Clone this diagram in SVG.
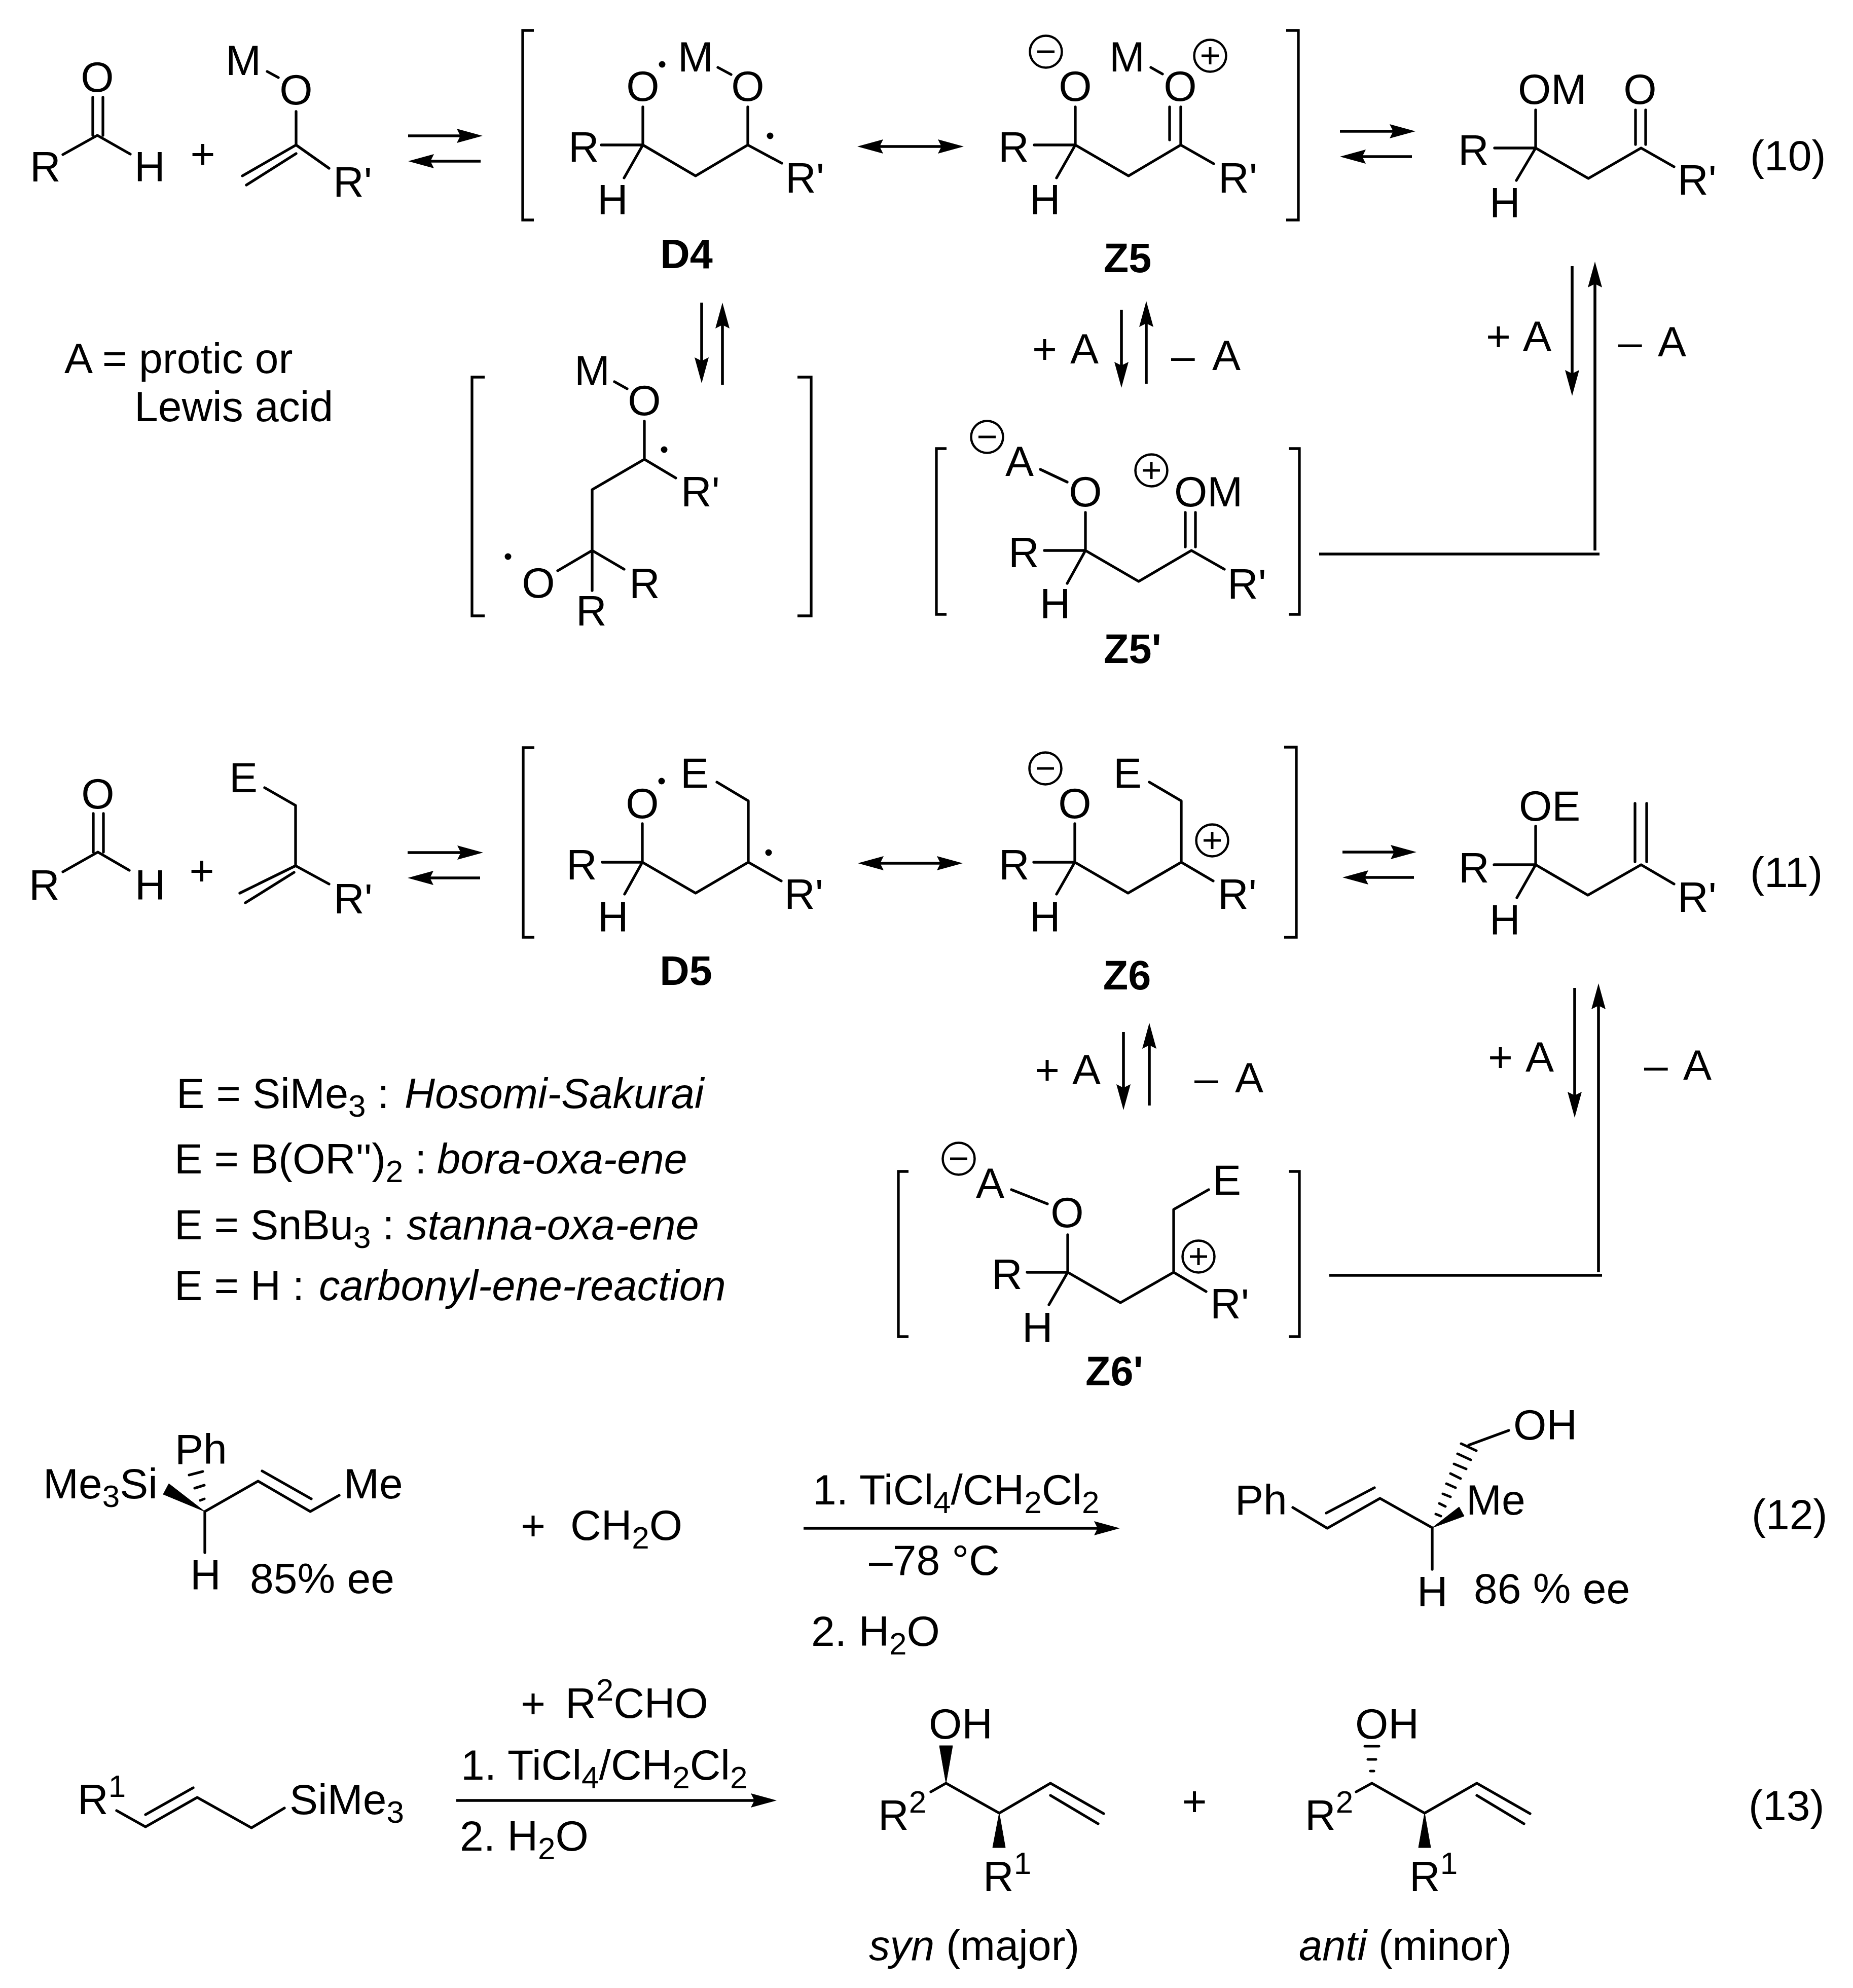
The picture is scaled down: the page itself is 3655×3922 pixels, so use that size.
<svg xmlns="http://www.w3.org/2000/svg" width="3655" height="3922" viewBox="0 0 3655 3922">
<style>
text{font-family:"Liberation Sans",Arial,sans-serif;font-size:84px;fill:#000}
.m{text-anchor:middle}
.l{font-weight:bold;font-size:81px;text-anchor:middle}
.i{font-style:italic}
.s{font-size:62px}
.e{font-size:83px}
path,line{fill:none;stroke:#000;stroke-width:5.3;stroke-linecap:round;stroke-linejoin:round}
.br{stroke-linecap:butt;stroke-linejoin:miter}
.w{fill:#000;stroke:#000;stroke-width:1}
.h{stroke-width:5}
.c{fill:none;stroke:#000;stroke-width:4.5}
.cs{stroke-width:5;stroke-linecap:butt}
.d{fill:#000}
.a{stroke-width:5.6;stroke-linecap:butt;marker-end:url(#ah)}
.aa{stroke-width:5.6;stroke-linecap:butt;marker-end:url(#ah);marker-start:url(#ah)}
.n{stroke-width:5.6;stroke-linecap:butt}
</style>
<defs>
<marker id="ah" markerUnits="userSpaceOnUse" markerWidth="54" markerHeight="32" refX="31" refY="15" orient="auto-start-reverse"><path d="M0,1 L51,15 L0,29 L7,15 Z" style="fill:#000;stroke:none"/></marker>
<g id="minus"><circle class="c" r="31.5"/><line class="cs" x1="-17" x2="17"/></g>
<g id="plus"><circle class="c" r="31.5"/><line class="cs" x1="-17" x2="17"/><line class="cs" y1="-17" y2="17"/></g>
</defs>
<rect width="3655" height="3922" fill="#fff"/>

<g id="connectors">
<line class="a" x1="805" y1="268" x2="932" y2="268"/>
<line class="a" x1="948" y1="318" x2="825" y2="318"/>
<line class="aa" x1="1711" y1="289" x2="1881" y2="289"/>
<line class="a" x1="1384" y1="597" x2="1384" y2="736"/>
<line class="a" x1="1425" y1="759" x2="1425" y2="617"/>
<line class="a" x1="2212" y1="611" x2="2212" y2="745"/>
<line class="a" x1="2261" y1="757" x2="2261" y2="614"/>
<line class="a" x1="2643" y1="259" x2="2772" y2="259"/>
<line class="a" x1="2785" y1="309" x2="2663" y2="309"/>
<line class="a" x1="3101" y1="525" x2="3101" y2="761"/>
<line class="a" x1="3146" y1="1086" x2="3146" y2="536"/>
<line class="n" x1="2602" y1="1093" x2="3155" y2="1093"/>
<line class="a" x1="804" y1="1682" x2="933" y2="1682"/>
<line class="a" x1="947" y1="1732" x2="824" y2="1732"/>
<line class="aa" x1="1712" y1="1703" x2="1879" y2="1703"/>
<line class="a" x1="2216" y1="2036" x2="2216" y2="2170"/>
<line class="a" x1="2267" y1="2181" x2="2267" y2="2038"/>
<line class="a" x1="2648" y1="1681" x2="2774" y2="1681"/>
<line class="a" x1="2789" y1="1731" x2="2668" y2="1731"/>
<line class="a" x1="3106" y1="1949" x2="3106" y2="2185"/>
<line class="a" x1="3153" y1="2510" x2="3153" y2="1960"/>
<line class="n" x1="2622" y1="2516" x2="3160" y2="2516"/>
<line class="a" x1="1585" y1="3015" x2="2189" y2="3015"/>
<line class="a" x1="900" y1="3552" x2="1512" y2="3552"/>
</g>

<g id="aldehyde-10">
<path d="M124,305 L192,267 L257,304 M183,192 V267 M203,192 V267"/>
<text class="m" x="192" y="181">O</text><text x="59" y="358">R</text><text x="265" y="358">H</text>
</g>
<text id="plus-10" class="m" x="400" y="332">+</text>
<g id="enol-ether">
<path d="M527,141 L549,153 M584,220 V286 L478,347 M584,303 L486,365 M584,286 L649,332"/>
<text x="445" y="148">M</text><text class="m" x="584" y="206">O</text><text x="657" y="388">R'</text>
</g>
<g id="D4">
<path class="br" d="M1053,60 H1031 V434 H1053"/>
<path d="M1186,286 H1268 V211 M1268,286 L1231,351 M1268,286 L1372,347 L1475,286 V211 M1475,286 L1542,322 M1416,133 L1442,147"/>
<circle class="d" cx="1306" cy="127" r="6.5"/><circle class="d" cx="1519" cy="268" r="6.5"/>
<text class="m" x="1268" y="199">O</text><text x="1337" y="141">M</text><text class="m" x="1475" y="199">O</text>
<text x="1121" y="319">R</text><text x="1178" y="423">H</text><text x="1549" y="380">R'</text>
<text class="l" x="1354" y="529">D4</text>
</g>
<g id="Z5">
<path class="br" d="M2537,60 H2561 V434 H2537"/>
<path d="M2040,286 H2121 V211 M2121,286 L2084,351 M2121,286 L2226,347 L2329,286 V211 M2307,211 V276 M2329,286 L2394,323 M2270,133 L2293,146"/>
<use href="#minus" x="2063" y="102"/><use href="#plus" x="2387" y="110"/>
<text class="m" x="2121" y="199">O</text><text x="2188" y="141">M</text><text class="m" x="2328" y="199">O</text>
<text x="1969" y="319">R</text><text x="2031" y="423">H</text><text x="2403" y="380">R'</text>
<text class="l" x="2224" y="537">Z5</text>
</g>
<g id="product-10">
<path d="M2948,292 H3029 V217 M3029,292 L2991,356 M3029,292 L3133,352 L3237,292 L3302,329 M3226,217 V285 M3246,217 V285"/>
<text x="2994" y="205">OM</text><text class="m" x="3235" y="205">O</text>
<text x="2876" y="325">R</text><text x="2938" y="429">H</text><text x="3309" y="384">R'</text>
</g>
<text id="eq10" x="3452" y="336">(10)</text>
<text id="acid-note"><tspan x="127" y="736">A = protic or</tspan><tspan x="265" y="831">Lewis acid</tspan></text>
<g id="rotamer-D4">
<path class="br" d="M956,744 H931 V1215 H956 M1573,744 H1600 V1215 H1573"/>
<path d="M1212,753 L1237,767 M1271,831 V906 L1168,966 V1165 M1271,906 L1333,943 M1168,1086 L1231,1123 M1168,1086 L1100,1126"/>
<circle class="d" cx="1310" cy="887" r="6.5"/><circle class="d" cx="1002" cy="1098" r="6.5"/>
<text x="1133" y="760">M</text><text class="m" x="1271" y="819">O</text><text x="1343" y="999">R'</text>
<text class="m" x="1062" y="1179">O</text><text x="1241" y="1180">R</text><text x="1136" y="1234">R</text>
</g>
<text id="plus-A-Z5" y="717"><tspan x="2036">+</tspan><tspan x="2111">A</tspan></text>
<text id="minus-A-Z5" y="730"><tspan x="2310">–</tspan><tspan x="2391">A</tspan></text>
<text id="plus-A-10" y="692"><tspan x="2931">+</tspan><tspan x="3004">A</tspan></text>
<text id="minus-A-10" y="703"><tspan x="3192">–</tspan><tspan x="3270">A</tspan></text>
<g id="Z5prime">
<path class="br" d="M1867,885 H1847 V1212 H1867 M2542,885 H2563 V1212 H2542"/>
<path d="M2052,926 L2105,951 M2141,1011 V1086 H2060 M2141,1086 L2105,1151 M2141,1086 L2246,1147 L2350,1086 L2415,1123 M2338,1011 V1079 M2358,1011 V1079"/>
<use href="#minus" x="1947" y="862"/><use href="#plus" x="2271" y="928"/>
<text x="1983" y="939">A</text><text class="m" x="2141" y="999">O</text><text x="2316" y="999">OM</text>
<text x="1989" y="1119">R</text><text x="2051" y="1220">H</text><text x="2421" y="1181">R'</text>
<text class="l" x="2234" y="1308">Z5'</text>
</g>

<g id="aldehyde-11">
<path d="M124,1720 L193,1681 L255,1717 M184,1605 V1681 M204,1605 V1681"/>
<text class="m" x="193" y="1595">O</text><text x="57" y="1775">R</text><text x="266" y="1775">H</text>
</g>
<text id="plus-11" class="m" x="398" y="1746">+</text>
<g id="allyl-E">
<path d="M522,1554 L583,1589 V1708 L473,1762 M580,1721 L484,1781 M583,1708 L649,1744"/>
<text x="452" y="1563">E</text><text x="658" y="1802">R'</text>
</g>
<g id="D5">
<path class="br" d="M1054,1475 H1032 V1849 H1054"/>
<path d="M1188,1701 H1267 V1625 M1267,1701 L1232,1764 M1267,1701 L1372,1762 L1476,1701 V1580 L1414,1543 M1476,1701 L1541,1738"/>
<circle class="d" cx="1305" cy="1541" r="6.5"/><circle class="d" cx="1516" cy="1682" r="6.5"/>
<text class="m" x="1267" y="1614">O</text><text x="1342" y="1554">E</text>
<text x="1117" y="1735">R</text><text x="1179" y="1838">H</text><text x="1547" y="1793">R'</text>
<text class="l" x="1353" y="1943">D5</text>
</g>
<g id="Z6">
<path class="br" d="M2533,1474 H2557 V1849 H2533"/>
<path d="M2039,1701 H2120 V1625 M2120,1701 L2084,1764 M2120,1701 L2225,1762 L2330,1701 V1580 L2267,1543 M2330,1701 L2393,1738"/>
<use href="#minus" x="2062" y="1516"/><use href="#plus" x="2391" y="1658"/>
<text class="m" x="2120" y="1614">O</text><text x="2196" y="1554">E</text>
<text x="1970" y="1735">R</text><text x="2031" y="1838">H</text><text x="2402" y="1793">R'</text>
<text class="l" x="2223" y="1952">Z6</text>
</g>
<g id="product-11">
<path d="M2947,1706 H3029 V1630 M3029,1706 L2992,1771 M3029,1706 L3132,1766 L3237,1706 L3302,1744 M3225,1585 V1700 M3248,1585 V1700"/>
<text x="2996" y="1619">OE</text>
<text x="2877" y="1741">R</text><text x="2938" y="1844">H</text><text x="3309" y="1799">R'</text>
</g>
<text id="eq11" x="3452" y="1750">(11)</text>
<g id="E-list">
<text class="e" x="348" y="2186">E = SiMe<tspan class="s" dy="17">3</tspan><tspan dy="-17"> : </tspan><tspan class="i" x="798">Hosomi-Sakurai</tspan></text>
<text class="e" x="344" y="2315">E = B(OR'')<tspan class="s" dy="17">2</tspan><tspan dy="-17"> : </tspan><tspan class="i" x="862">bora-oxa-ene</tspan></text>
<text class="e" x="344" y="2445">E = SnBu<tspan class="s" dy="17">3</tspan><tspan dy="-17"> : </tspan><tspan class="i" x="802">stanna-oxa-ene</tspan></text>
<text class="e" x="344" y="2565">E = H : <tspan class="i" x="629">carbonyl-ene-reaction</tspan></text>
</g>
<text id="plus-A-Z6" y="2139"><tspan x="2041">+</tspan><tspan x="2115">A</tspan></text>
<text id="minus-A-Z6" y="2155"><tspan x="2356">–</tspan><tspan x="2436">A</tspan></text>
<text id="plus-A-11" y="2114"><tspan x="2935">+</tspan><tspan x="3009">A</tspan></text>
<text id="minus-A-11" y="2130"><tspan x="3243">–</tspan><tspan x="3320">A</tspan></text>
<g id="Z6prime">
<path class="br" d="M1792,2311 H1772 V2637 H1792 M2542,2311 H2563 V2637 H2542"/>
<path d="M1995,2347 L2066,2375 M2106,2436 V2510 H2026 M2106,2510 L2069,2574 M2106,2510 L2210,2570 L2315,2510 V2386 L2384,2347 M2315,2510 L2379,2548"/>
<use href="#minus" x="1891" y="2286"/><use href="#plus" x="2364" y="2479"/>
<text x="1925" y="2363">A</text><text class="m" x="2105" y="2421">O</text><text x="2392" y="2357">E</text>
<text x="1956" y="2543">R</text><text x="2016" y="2648">H</text><text x="2387" y="2601">R'</text>
<text class="l" x="2198" y="2733">Z6'</text>
</g>

<g id="allylsilane-12">
<polygon class="w" points="404,2982 333,2927 322,2948"/>
<line class="h" x1="373" y1="2910" x2="400" y2="2903"/><line class="h" x1="384" y1="2936" x2="403" y2="2930"/><line class="h" x1="395" y1="2960" x2="403" y2="2957"/>
<path d="M404,2982 L509,2922 L612,2982 L669,2950 M517,2902 L614,2957 M404,2982 V3063"/>
<text x="85" y="2956">Me<tspan class="s" dy="17">3</tspan><tspan dy="-17">Si</tspan></text>
<text x="345" y="2888">Ph</text><text x="678" y="2956">Me</text><text x="375" y="3136">H</text><text x="493" y="3143">85% ee</text>
</g>
<text id="ch2o"><tspan x="1027" y="3038">+</tspan><tspan x="1125" y="3038">CH</tspan><tspan class="s" dy="17">2</tspan><tspan dy="-17">O</tspan></text>
<g id="conditions-12">
<text x="1603" y="2968">1. TiCl<tspan class="s" dy="17">4</tspan><tspan dy="-17">/CH</tspan><tspan class="s" dy="17">2</tspan><tspan dy="-17">Cl</tspan><tspan class="s" dy="17">2</tspan></text>
<text x="1714" y="3107">–78 °C</text>
<text x="1600" y="3247">2. H<tspan class="s" dy="17">2</tspan><tspan dy="-17">O</tspan></text>
</g>
<g id="product-12">
<polygon class="w" points="2825,3014 2878,2973 2888,2991"/>
<line class="h" x1="2832" y1="2987" x2="2842" y2="2991"/><line class="h" x1="2839" y1="2966" x2="2851" y2="2972"/><line class="h" x1="2846" y1="2947" x2="2861" y2="2953"/><line class="h" x1="2853" y1="2927" x2="2871" y2="2935"/><line class="h" x1="2861" y1="2907" x2="2881" y2="2917"/><line class="h" x1="2868" y1="2888" x2="2892" y2="2898"/><line class="h" x1="2875" y1="2868" x2="2901" y2="2880"/><line class="h" x1="2882" y1="2848" x2="2912" y2="2862"/>
<path d="M2550,2974 L2618,3015 L2722,2956 L2825,3014 M2616,2985 L2711,2935 M2825,3014 V3096 M2897,2851 L2976,2822"/>
<text x="2436" y="2988">Ph</text><text x="2892" y="2988">Me</text><text x="2795" y="3169">H</text><text x="2907" y="3163">86 % ee</text><text x="2985" y="2840">OH</text>
</g>
<text id="eq12" x="3455" y="3017">(12)</text>

<g id="allylsilane-13">
<path d="M230,3572 L287,3604 L389,3546 L496,3606 L561,3567 M287,3580 L381,3527"/>
<text x="153" y="3579">R<tspan class="s" dy="-34">1</tspan></text>
<text x="571" y="3579">SiMe<tspan class="s" dy="17">3</tspan></text>
</g>
<g id="conditions-13">
<text y="3389"><tspan x="1027">+</tspan><tspan x="1115">R</tspan><tspan class="s" dy="-34">2</tspan><tspan dy="34">CHO</tspan></text>
<text x="909" y="3511">1. TiCl<tspan class="s" dy="17">4</tspan><tspan dy="-17">/CH</tspan><tspan class="s" dy="17">2</tspan><tspan dy="-17">Cl</tspan><tspan class="s" dy="17">2</tspan></text>
<text x="907" y="3651">2. H<tspan class="s" dy="17">2</tspan><tspan dy="-17">O</tspan></text>
</g>
<g id="syn">
<polygon class="w" points="1866,3518 1853,3444 1879,3444"/>
<polygon class="w" points="1971,3577 1958,3645 1983,3645"/>
<path d="M1836,3535 L1866,3518 L1971,3577 L2072,3518 L2177,3578 M2072,3542 L2166,3598"/>
<text x="1832" y="3430">OH</text>
<text x="1732" y="3610">R<tspan class="s" dy="-34">2</tspan></text>
<text x="1939" y="3731">R<tspan class="s" dy="-34">1</tspan></text>
<text class="e" x="1714" y="3867"><tspan class="i">syn</tspan> (major)</text>
</g>
<text id="plus-13" class="m" x="2356" y="3582">+</text>
<g id="anti">
<line class="h" x1="2692" y1="3445" x2="2720" y2="3445"/><line class="h" x1="2698" y1="3471" x2="2714" y2="3471"/><line class="h" x1="2703" y1="3494" x2="2710" y2="3494"/>
<polygon class="w" points="2810,3577 2798,3645 2822,3645"/>
<path d="M2675,3535 L2706,3518 L2810,3577 L2913,3518 L3018,3578 M2913,3542 L3006,3598"/>
<text x="2673" y="3430">OH</text>
<text x="2574" y="3610">R<tspan class="s" dy="-34">2</tspan></text>
<text x="2780" y="3731">R<tspan class="s" dy="-34">1</tspan></text>
<text class="e" x="2562" y="3867"><tspan class="i">anti</tspan> (minor)</text>
</g>
<text id="eq13" x="3449" y="3591">(13)</text>
</svg>
